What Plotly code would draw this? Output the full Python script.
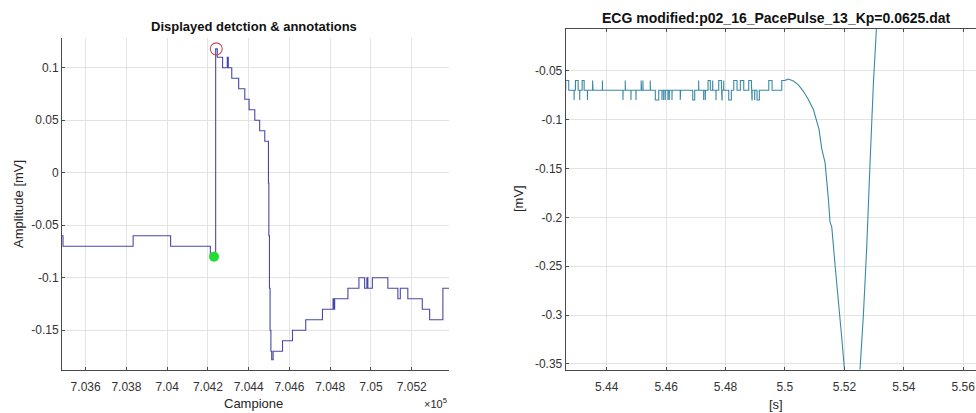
import plotly.graph_objects as go

W, H = 976, 413

# ---------------- left panel data (sample index, amplitude mV) ----------------
left_sample = [703484, 703489, 703833, 704017, 704212, 704238, 704246, 704272, 704295,
               704300, 704317, 704351, 704381, 704402, 704430, 704454, 704479, 704497,
               704499, 704502, 704505, 704509, 704513, 704520, 704566, 704615, 704680, 704762,
               704814, 704818, 704822, 704887, 704941, 704969, 704980, 704985, 705007,
               705083, 705132, 705144, 705181, 705252, 705288, 705353, 705395]
left_amp = [-0.06, -0.07, -0.06, -0.07, -0.08, 0.118, 0.11, 0.10, 0.11,
            0.10, 0.09, 0.08, 0.07, 0.06, 0.05, 0.04, 0.03, -0.01,
            -0.06, -0.11, -0.15, -0.17, -0.178, -0.17, -0.16, -0.15, -0.14, -0.13,
            -0.12, -0.13, -0.12, -0.11, -0.10, -0.11, -0.10, -0.11, -0.10,
            -0.11, -0.12, -0.11, -0.12, -0.13, -0.14, -0.11, -0.11]
peak_sample, peak_amp = [704241], [0.118]
onset_sample, onset_amp = [704230], [-0.08]
left_xticks = [703600, 703800, 704000, 704200, 704400, 704600, 704800, 705000, 705200]
left_xlabels = ['7.036', '7.038', '7.04', '7.042', '7.044', '7.046', '7.048', '7.05', '7.052']
left_yticks = [-0.15, -0.1, -0.05, 0, 0.05, 0.1]
left_ylabels = ['-0.15', '-0.1', '-0.05', '0', '0.05', '0.1']

# ---------------- right panel data (time s, mV) ----------------
base_mv = -0.07
base_t0 = 5.4262
noise_start = [5.4262, 5.42902, 5.42948, 5.43091, 5.43174, 5.43351, 5.43525, 5.43536,
               5.43855, 5.44547, 5.44624, 5.44816, 5.44985, 5.45160, 5.45220, 5.45466,
               5.45636, 5.45860, 5.45917, 5.45971, 5.46062, 5.46106, 5.46197, 5.46475,
               5.46896, 5.47096, 5.47264, 5.47318, 5.47411, 5.47567, 5.47678, 5.47771,
               5.47880, 5.47937, 5.48108, 5.48276, 5.48498, 5.48781, 5.48890, 5.48981,
               5.49061, 5.49455]
noise_end = [5.42722, 5.42907, 5.43039, 5.43096, 5.43241, 5.43356, 5.43530, 5.43541,
             5.43860, 5.44552, 5.44629, 5.44821, 5.44990, 5.45172, 5.45225, 5.45471,
             5.45751, 5.45865, 5.45922, 5.45976, 5.46067, 5.46111, 5.46202, 5.46490,
             5.46963, 5.47101, 5.47269, 5.47323, 5.47488, 5.47572, 5.47683, 5.47859,
             5.47885, 5.47942, 5.48195, 5.48387, 5.48613, 5.48869, 5.48895, 5.48986,
             5.49138, 5.49566]
noise_mv = [-0.06, -0.08, -0.06, -0.08, -0.06, -0.08, -0.06, -0.06,
            -0.06, -0.08, -0.06, -0.08, -0.08, -0.06, -0.06, -0.06,
            -0.08, -0.08, -0.08, -0.08, -0.08, -0.08, -0.08, -0.08,
            -0.08, -0.06, -0.08, -0.08, -0.06, -0.06, -0.08, -0.06,
            -0.08, -0.06, -0.08, -0.06, -0.06, -0.06, -0.08, -0.08,
            -0.08, -0.06]
curve_t = [5.49892, 5.49892, 5.50003, 5.50115, 5.50283, 5.50451, 5.50620, 5.50788,
           5.50956, 5.51071, 5.51148, 5.51182, 5.51239, 5.51350, 5.51407, 5.51461,
           5.51518, 5.51576, 5.51687, 5.51798, 5.51913, 5.52000, 5.52250, 5.52528,
           5.52640, 5.52750, 5.52810, 5.52866, 5.52977, 5.53010, 5.53200]
curve_mv = [-0.07, -0.06, -0.0599, -0.0585, -0.0605, -0.0645, -0.0711, -0.0795,
            -0.0897, -0.1010, -0.1100, -0.1180, -0.1300, -0.1440, -0.1610, -0.1814,
            -0.2050, -0.2100, -0.2490, -0.2830, -0.3240, -0.3545, -0.4200, -0.3545,
            -0.3000, -0.2320, -0.1810, -0.1430, -0.0625, -0.0390, 0.0600]
right_xticks = [5.44, 5.46, 5.48, 5.50, 5.52, 5.54, 5.56]
right_xlabels = ['5.44', '5.46', '5.48', '5.5', '5.52', '5.54', '5.56']
right_yticks = [-0.35, -0.3, -0.25, -0.2, -0.15, -0.1, -0.05]
right_ylabels = ['-0.35', '-0.3', '-0.25', '-0.2', '-0.15', '-0.1', '-0.05']

# build right trace (steps as explicit corners, then the smooth curve)
rx, ry = [base_t0], [base_mv]
for s, e, v in zip(noise_start, noise_end, noise_mv):
    rx += [s, s, e, e]
    ry += [base_mv, v, v, base_mv]
rx += curve_t
ry += curve_mv


def px(x):
    return x / W


def py(y):
    return 1 - y / H


FONT = "Liberation Sans, Arial, sans-serif"
GRID = "#e3e3e3"
AXC = "#4a4a4a"
TICKF = dict(family=FONT, size=12, color="#333333")

fig = go.Figure()
fig.add_trace(go.Scatter(x=left_sample, y=left_amp, mode="lines", line_shape="hv",
                         line=dict(color="#4848a8", width=1.1), xaxis="x", yaxis="y",
                         showlegend=False, hoverinfo="skip"))
fig.add_trace(go.Scatter(x=peak_sample, y=peak_amp, mode="markers",
                         marker=dict(symbol="circle-open", size=12, color="#c05050",
                                     line=dict(width=1.1, color="#c05050")),
                         xaxis="x", yaxis="y", showlegend=False))
fig.add_trace(go.Scatter(x=onset_sample, y=onset_amp, mode="markers",
                         marker=dict(symbol="circle", size=10, color="#22dd33"),
                         xaxis="x", yaxis="y", showlegend=False))
fig.add_trace(go.Scatter(x=rx, y=ry, mode="lines",
                         line=dict(color="#3a88a8", width=1.1), xaxis="x2", yaxis="y2",
                         showlegend=False, hoverinfo="skip"))

common = dict(showgrid=True, gridcolor=GRID, gridwidth=1, zeroline=False,
              showline=True, linecolor=AXC, linewidth=1, ticks="inside", ticklen=3,
              tickcolor=AXC, tickfont=TICKF)

fig.update_layout(
    width=W, height=H, margin=dict(l=0, r=0, t=0, b=0),
    paper_bgcolor="white", plot_bgcolor="white",
    xaxis=dict(domain=[px(62), px(449)], range=[703484, 705383],
               tickmode="array", tickvals=left_xticks, ticktext=left_xlabels,
               anchor="y", ticklabelstandoff=5, **common),
    yaxis=dict(domain=[py(372), py(38)], range=[-0.188, 0.1285],
               tickmode="array", tickvals=left_yticks, ticktext=left_ylabels,
               anchor="x", **common),
    xaxis2=dict(domain=[px(565.7), 1.0], range=[5.4262, 5.5643],
                tickmode="array", tickvals=right_xticks, ticktext=right_xlabels,
                anchor="y2", mirror="ticks", ticklabelstandoff=6, **common),
    yaxis2=dict(domain=[py(371.3), py(29)], range=[-0.3557, -0.0072],
                tickmode="array", tickvals=right_yticks, ticktext=right_ylabels,
                anchor="x2", **common),
)


def ann(text, x, y, size=12, angle=0, bold=False, color="#262626"):
    fig.add_annotation(text=f"<b>{text}</b>" if bold else text, x=px(x), y=py(y),
                       xref="paper", yref="paper", showarrow=False, textangle=angle,
                       xanchor="center", yanchor="middle",
                       font=dict(family=FONT, size=size, color=color))


ann("Displayed detction &amp; annotations", 254.5, 26.7, size=13, bold=True, color="#111111")
ann("ECG modified:p02_16_PacePulse_13_Kp=0.0625.dat", 776, 18.3, size=14, bold=True,
    color="#111111")
ann("Amplitude [mV]", 18, 205, size=13, angle=-90)
ann("Campione", 254, 405, size=13)
ann("×10<sup>5</sup>", 435, 405, size=11)
ann("[mV]", 518, 200, size=13, angle=-90)
ann("[s]", 776, 406, size=13)

fig.write_html("out.html")
